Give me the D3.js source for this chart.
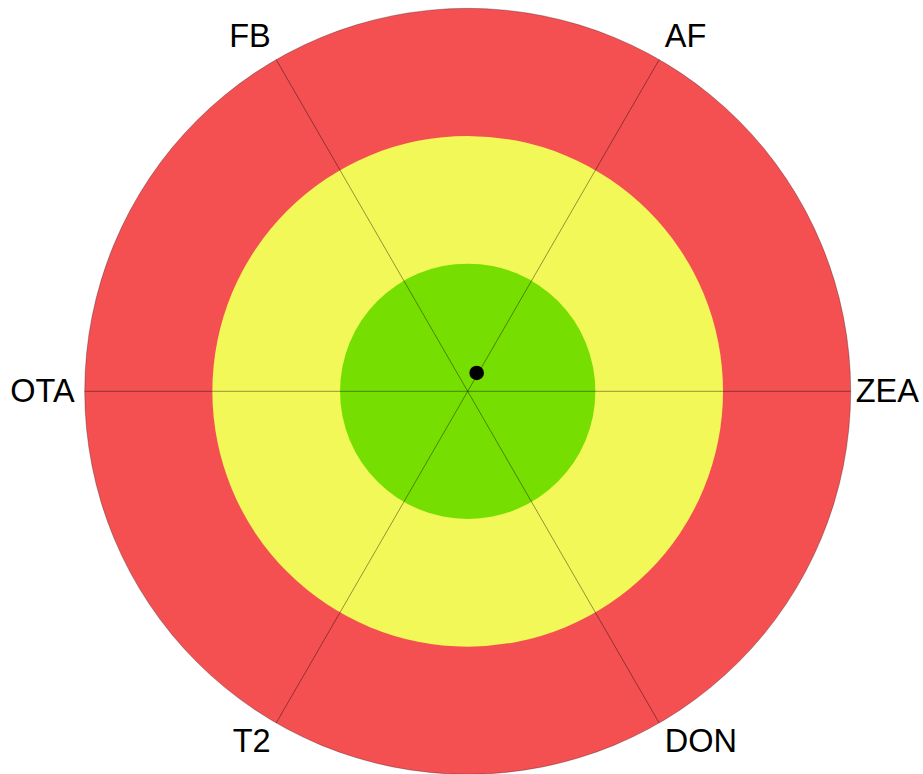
<!DOCTYPE html>
<html lang="en">
<head>
    <meta charset="UTF-8">
    <title>Target chart</title>
    <script src="https://d3js.org/d3.v7.min.js"></script>
    <style>
        body { margin: 0; padding: 0; background: #fff; overflow: hidden; }
        svg { display: block; }
        .label { font-family: "Liberation Sans", Arial, sans-serif; font-size: 32.5px; fill: #000; }
    </style>
</head>
<body>
    <svg id="chart"></svg>
    <script>
        const width = 923, height = 774;

        // axis labels, counter-clockwise from the right (degrees)
        const axes = ["ZEA", "AF", "FB", "OTA", "T2", "DON"];
        const axisAngles = [0, 60, 120, 180, 240, 300];

        // rings (inner -> outer) in value units
        const ringLimits = [1, 2, 3];
        const ringColors = ["#76de00", "#f2f857", "#f45052"];

        // the single plotted point
        const pointValue = [0.16];
        const pointAngle = [64];

        const cx = 467.7, cy = 391.3;
        const outerR = 383;

        const r = d3.scaleLinear().domain([0, 3]).range([0, outerR]);

        const svg = d3.select("#chart").attr("width", width).attr("height", height);
        const g = svg.append("g").attr("transform", `translate(${cx},${cy})`);

        // rings drawn from outside in
        const ringData = ringLimits.map((v, i) => ({ v, col: ringColors[i] })).reverse();
        g.selectAll("circle.ring")
            .data(ringData)
            .enter().append("circle")
            .attr("class", "ring")
            .attr("r", d => r(d.v))
            .style("fill", d => d.col)
            .style("stroke", (d, i) => i === 0 ? "rgba(0,0,0,0.35)" : "none")
            .style("stroke-width", 0.8);

        const rad = a => a * Math.PI / 180;

        // spokes
        g.selectAll("line.spoke")
            .data(axisAngles)
            .enter().append("line")
            .attr("class", "spoke")
            .attr("x1", 0).attr("y1", 0)
            .attr("x2", d => r(3) * Math.cos(rad(d)))
            .attr("y2", d => -r(3) * Math.sin(rad(d)))
            .style("stroke", "rgba(0,0,0,0.5)")
            .style("stroke-width", 0.8);

        // labels
        const labelR = outerR + 5;
        g.selectAll("text.label")
            .data(axes)
            .enter().append("text")
            .attr("class", "label")
            .attr("x", (d, i) => {
                const c = Math.cos(rad(axisAngles[i]));
                const px = labelR * c;
                if (c > 0.99) return px;
                if (c < -0.99) return px - 5;
                return c > 0 ? px + 3 : px - 3;
            })
            .attr("y", (d, i) => {
                const s = Math.sin(rad(axisAngles[i]));
                const py = -labelR * s;
                if (s > 0.01) return py - 8.6;
                if (s < -0.01) return py + 25;
                return py + 10.5;
            })
            .attr("text-anchor", (d, i) => {
                const c = Math.cos(rad(axisAngles[i]));
                return c > 0.01 ? "start" : c < -0.01 ? "end" : "middle";
            })
            .text(d => d);

        // point
        g.selectAll("circle.pt")
            .data(pointValue)
            .enter().append("circle")
            .attr("class", "pt")
            .attr("cx", (d, i) => r(d) * Math.cos(rad(pointAngle[i])))
            .attr("cy", (d, i) => -r(d) * Math.sin(rad(pointAngle[i])))
            .attr("r", 7.3)
            .style("fill", "#000");
    </script>
</body>
</html>
